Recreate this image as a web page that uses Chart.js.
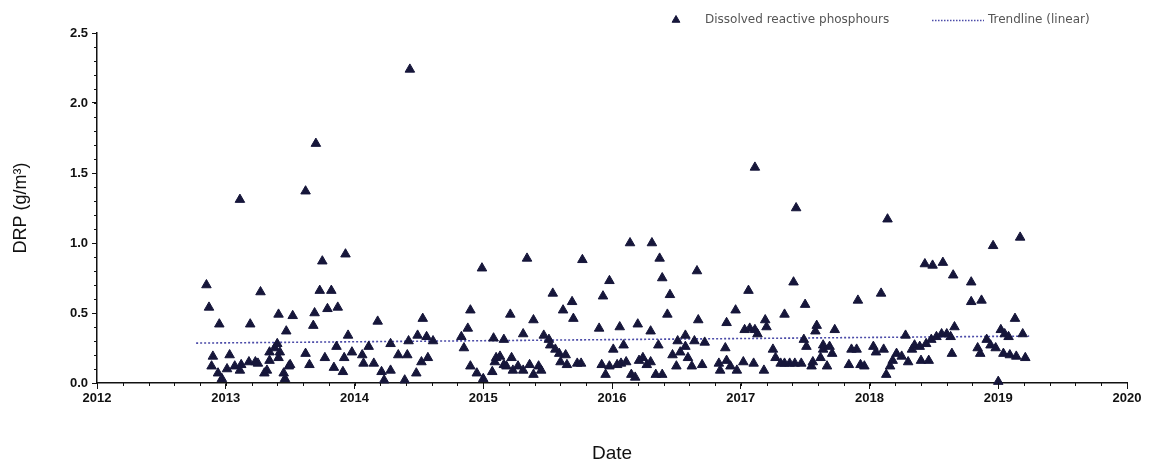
<!DOCTYPE html>
<html>
<head>
<meta charset="utf-8">
<title>DRP</title>
<script src="https://cdn.jsdelivr.net/npm/chart.js@4/dist/chart.umd.min.js"></script>
<style>
  html, body { margin: 0; padding: 0; background: #fff; }
</style>
</head>
<body>
<canvas id="drp" width="1153" height="467"></canvas>
<script>
// sample dates as decimal years, DRP in g/m3
const sampleDates = [
  2012.85, 2012.87, 2012.89, 2012.90, 2012.94, 2012.95, 2012.97, 2013.01, 2013.03, 2013.07,
  2013.11, 2013.11, 2013.12, 2013.18, 2013.19, 2013.23, 2013.25, 2013.27, 2013.30, 2013.32,
  2013.34, 2013.34, 2013.38, 2013.40, 2013.41, 2013.41, 2013.42, 2013.45, 2013.46, 2013.47,
  2013.49, 2013.50, 2013.52, 2013.62, 2013.62, 2013.65, 2013.68, 2013.69, 2013.70, 2013.73,
  2013.75, 2013.77, 2013.79, 2013.82, 2013.84, 2013.86, 2013.87, 2013.91, 2013.92, 2013.93,
  2013.95, 2013.98, 2014.06, 2014.07, 2014.11, 2014.15, 2014.18, 2014.21, 2014.23, 2014.28,
  2014.28, 2014.34, 2014.39, 2014.41, 2014.42, 2014.43, 2014.48, 2014.49, 2014.52, 2014.53,
  2014.56, 2014.57, 2014.61, 2014.83, 2014.85, 2014.88, 2014.90, 2014.90, 2014.95, 2014.99,
  2015.00, 2015.07, 2015.08, 2015.09, 2015.10, 2015.13, 2015.16, 2015.16, 2015.18, 2015.21,
  2015.22, 2015.23, 2015.27, 2015.31, 2015.31, 2015.34, 2015.36, 2015.39, 2015.39, 2015.43,
  2015.45, 2015.47, 2015.51, 2015.52, 2015.54, 2015.56, 2015.59, 2015.60, 2015.62, 2015.64,
  2015.65, 2015.69, 2015.70, 2015.73, 2015.76, 2015.77, 2015.90, 2015.92, 2015.93, 2015.95,
  2015.98, 2015.98, 2016.01, 2016.04, 2016.06, 2016.07, 2016.09, 2016.11, 2016.14, 2016.15,
  2016.18, 2016.20, 2016.21, 2016.24, 2016.27, 2016.30, 2016.30, 2016.31, 2016.34, 2016.36,
  2016.37, 2016.39, 2016.39, 2016.43, 2016.45, 2016.47, 2016.50, 2016.51, 2016.53, 2016.57,
  2016.57, 2016.59, 2016.62, 2016.64, 2016.66, 2016.67, 2016.70, 2016.72, 2016.83, 2016.84,
  2016.88, 2016.89, 2016.89, 2016.92, 2016.96, 2016.97, 2017.02, 2017.03, 2017.06, 2017.07,
  2017.10, 2017.11, 2017.11, 2017.13, 2017.18, 2017.19, 2017.20, 2017.25, 2017.27, 2017.31,
  2017.34, 2017.34, 2017.38, 2017.41, 2017.42, 2017.43, 2017.47, 2017.49, 2017.50, 2017.51,
  2017.55, 2017.56, 2017.58, 2017.59, 2017.62, 2017.64, 2017.64, 2017.67, 2017.69, 2017.71,
  2017.73, 2017.84, 2017.86, 2017.90, 2017.91, 2017.93, 2017.96, 2018.03, 2018.05, 2018.09,
  2018.11, 2018.13, 2018.14, 2018.16, 2018.18, 2018.21, 2018.25, 2018.28, 2018.30, 2018.33,
  2018.35, 2018.39, 2018.40, 2018.43, 2018.44, 2018.46, 2018.48, 2018.49, 2018.52, 2018.56,
  2018.57, 2018.60, 2018.63, 2018.64, 2018.65, 2018.66, 2018.79, 2018.79, 2018.84, 2018.86,
  2018.87, 2018.91, 2018.94, 2018.96, 2018.98, 2019.00, 2019.02, 2019.04, 2019.05, 2019.08,
  2019.09, 2019.13, 2019.14, 2019.17, 2019.19, 2019.21
];
const drpValues = [
  0.70, 0.54, 0.12, 0.19, 0.07, 0.42, 0.03, 0.10, 0.20, 0.12,
  0.09, 1.31, 0.13, 0.15, 0.42, 0.15, 0.14, 0.65, 0.07, 0.09,
  0.16, 0.22, 0.25, 0.28, 0.18, 0.49, 0.22, 0.07, 0.03, 0.37,
  0.12, 0.13, 0.48, 0.21, 1.37, 0.13, 0.41, 0.50, 1.71, 0.66,
  0.87, 0.18, 0.53, 0.66, 0.11, 0.26, 0.54, 0.08, 0.18, 0.92,
  0.34, 0.22, 0.20, 0.14, 0.26, 0.14, 0.44, 0.08, 0.02, 0.09,
  0.28, 0.20, 0.02, 0.20, 0.30, 2.24, 0.07, 0.34, 0.15, 0.46,
  0.33, 0.18, 0.30, 0.33, 0.25, 0.39, 0.52, 0.12, 0.07, 0.82,
  0.03, 0.08, 0.32, 0.15, 0.18, 0.19, 0.31, 0.13, 0.12, 0.49,
  0.18, 0.09, 0.12, 0.09, 0.35, 0.89, 0.13, 0.06, 0.45, 0.12,
  0.09, 0.34, 0.31, 0.27, 0.64, 0.24, 0.21, 0.15, 0.52, 0.20,
  0.13, 0.58, 0.46, 0.14, 0.14, 0.88, 0.39, 0.13, 0.62, 0.06,
  0.12, 0.73, 0.24, 0.13, 0.40, 0.14, 0.27, 0.15, 1.00, 0.06,
  0.04, 0.42, 0.16, 0.18, 0.13, 0.15, 0.37, 1.00, 0.06, 0.27,
  0.89, 0.75, 0.06, 0.49, 0.63, 0.20, 0.12, 0.30, 0.22, 0.34,
  0.26, 0.18, 0.12, 0.30, 0.80, 0.45, 0.13, 0.29, 0.14, 0.09,
  0.25, 0.43, 0.16, 0.12, 0.52, 0.09, 0.15, 0.38, 0.66, 0.39,
  0.14, 0.38, 1.54, 0.35, 0.09, 0.45, 0.40, 0.24, 0.18, 0.14,
  0.14, 0.49, 0.14, 0.72, 0.14, 1.25, 0.14, 0.31, 0.56, 0.26,
  0.12, 0.15, 0.37, 0.41, 0.18, 0.27, 0.24, 0.12, 0.26, 0.21,
  0.38, 0.13, 0.24, 0.24, 0.59, 0.13, 0.12, 0.26, 0.22, 0.64,
  0.24, 0.06, 1.17, 0.12, 0.16, 0.21, 0.19, 0.34, 0.15, 0.24,
  0.27, 0.26, 0.16, 0.85, 0.28, 0.16, 0.31, 0.84, 0.33, 0.35,
  0.86, 0.35, 0.33, 0.21, 0.77, 0.40, 0.72, 0.58, 0.25, 0.21,
  0.59, 0.31, 0.27, 0.98, 0.25, 0.01, 0.38, 0.21, 0.35, 0.33,
  0.20, 0.46, 0.19, 1.04, 0.35, 0.18
];

// linear trend end points
const trendDates = [2012.77, 2019.24];
const trendValues = [0.285, 0.335];

const xRange = [2012, 2020];
const yRange = [0, 2.5];
const xMinorStep = 0.2;
const yMinorStep = 0.1;

const axisColor = '#111';
const markColor = '#16163a';
const trendColor = '#4b4ba8';

// small outward minor ticks on both axes
const minorTicks = {
  id: 'minorTicks',
  afterDraw(chart) {
    const { ctx, scales: { x, y } } = chart;
    ctx.save();
    ctx.strokeStyle = axisColor;
    ctx.lineWidth = 1;
    ctx.beginPath();
    const nx = Math.round((xRange[1] - xRange[0]) / xMinorStep);
    for (let i = 0; i <= nx; i++) {
      const px = Math.round(x.getPixelForValue(xRange[0] + i * xMinorStep)) + 0.5;
      ctx.moveTo(px, x.top);
      ctx.lineTo(px, x.top + 3);
    }
    const ny = Math.round((yRange[1] - yRange[0]) / yMinorStep);
    for (let i = 0; i <= ny; i++) {
      const py = Math.round(y.getPixelForValue(yRange[0] + i * yMinorStep)) + 0.5;
      ctx.moveTo(y.right, py);
      ctx.lineTo(y.right - 3, py);
    }
    ctx.stroke();
    ctx.restore();
  }
};

// legend row at the top right
const topLegend = {
  id: 'topLegend',
  afterDraw(chart) {
    const ctx = chart.ctx;
    const [pts, trend] = chart.data.datasets;
    const ly = 20;
    ctx.save();
    ctx.font = '12px "DejaVu Sans"';
    ctx.textBaseline = 'middle';
    ctx.fillStyle = markColor;
    ctx.strokeStyle = markColor;
    Chart.helpers.drawPoint(ctx, { pointStyle: 'triangle', radius: 4.5, rotation: 0, borderWidth: 1 }, 676, ly);
    ctx.fillStyle = '#555';
    ctx.fillText(pts.label, 705, ly);
    ctx.strokeStyle = trendColor;
    ctx.lineWidth = 1.3;
    ctx.setLineDash([1.5, 1.5]);
    ctx.beginPath();
    ctx.moveTo(932, ly + 0.5);
    ctx.lineTo(984, ly + 0.5);
    ctx.stroke();
    ctx.setLineDash([]);
    ctx.fillText(trend.label, 988, ly);
    ctx.restore();
  }
};

const tickFont = { family: '"Liberation Sans", Arial', size: 13, weight: 'bold' };

new Chart(document.getElementById('drp'), {
  type: 'scatter',
  data: {
    datasets: [
      {
        label: 'Dissolved reactive phosphours',
        data: sampleDates.map((d, i) => ({ x: d, y: drpValues[i] })),
        pointStyle: 'triangle',
        pointRadius: 5.5,
        backgroundColor: markColor,
        borderColor: markColor,
        borderWidth: 1,
        clip: false
      },
      {
        label: 'Trendline (linear)',
        type: 'line',
        data: trendDates.map((d, i) => ({ x: d, y: trendValues[i] })),
        borderColor: trendColor,
        borderWidth: 1.6,
        borderDash: [2, 2],
        pointRadius: 0,
        fill: false
      }
    ]
  },
  options: {
    responsive: false,
    animation: false,
    layout: { padding: { top: 33, right: 26, left: 0, bottom: 0 } },
    plugins: {
      legend: { display: false },
      tooltip: { enabled: false }
    },
    scales: {
      x: {
        type: 'linear',
        min: xRange[0],
        max: xRange[1],
        afterFit: s => { s.height = 84; },
        ticks: {
          stepSize: 1,
          color: '#111',
          font: tickFont,
          padding: 2,
          maxRotation: 0,
          callback: v => String(v)
        },
        grid: { drawOnChartArea: false, tickLength: 6, tickColor: axisColor, tickWidth: 1 },
        border: { color: axisColor, width: 1.5 },
        title: {
          display: true,
          text: 'Date',
          color: '#111',
          font: { family: '"Liberation Sans", Arial', size: 19 },
          padding: { top: 0, bottom: 2 }
        }
      },
      y: {
        min: yRange[0],
        max: yRange[1],
        afterFit: s => { s.width = 97; },
        ticks: {
          stepSize: 0.5,
          color: '#111',
          font: tickFont,
          padding: 4,
          callback: v => v.toFixed(1)
        },
        grid: { drawOnChartArea: false, tickLength: 5, tickColor: axisColor, tickWidth: 1 },
        border: { color: axisColor, width: 1.5 },
        title: {
          display: true,
          text: 'DRP (g/m³)',
          color: '#111',
          font: { family: '"Liberation Sans", Arial', size: 18 },
          padding: { top: 10, bottom: 0 }
        }
      }
    }
  },
  plugins: [minorTicks, topLegend]
});
</script>
</body>
</html>
